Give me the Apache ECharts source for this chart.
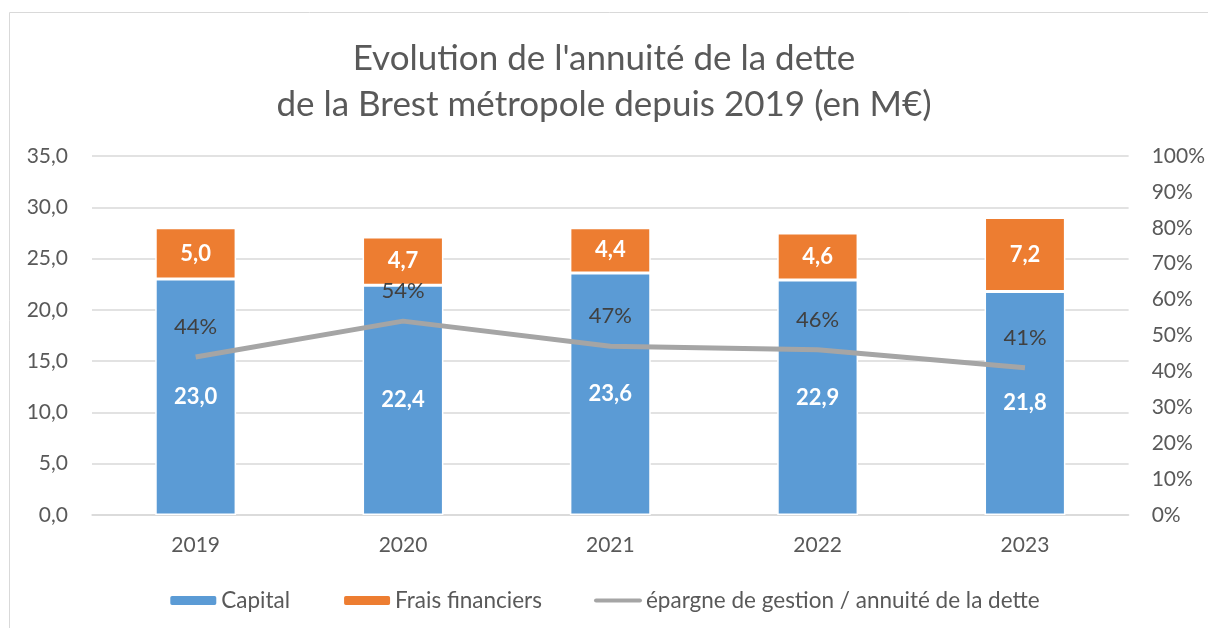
<!DOCTYPE html>
<html><head><meta charset="utf-8">
<script src="https://cdn.jsdelivr.net/npm/echarts@6/dist/echarts.min.js"></script>
<style>html,body{margin:0;padding:0;background:#fff}#c{width:1208px;height:628px}</style>
</head><body><div id="c"></div>
<script>
const categories = ['2019','2020','2021','2022','2023'];
const capital = [23.0, 22.4, 23.6, 22.9, 21.8];
const frais = [5.0, 4.7, 4.4, 4.6, 7.2];
const ratio = [0.44, 0.54, 0.47, 0.46, 0.41];
const seriesNames = ['Capital', 'Frais financiers', 'épargne de gestion / annuité de la dette'];
const titleLines = ["Evolution de l'annuité de la dette", "de la Brest métropole depuis 2019 (en M€)"];

const FONT = 'Lato, "Open Sans", sans-serif';
const fmt1 = v => v.toFixed(1).replace('.', ',');
const chart = echarts.init(document.getElementById('c'));
chart.setOption({
  animation: false,
  textStyle: { fontFamily: FONT },
  graphic: [{ type: 'rect', shape: { x: 9.5, y: 12.5, width: 1210, height: 640 }, style: { fill: 'none', stroke: '#d9d9d9', lineWidth: 1 } }],
  title: {
    text: titleLines.join('\n'), left: 'center', top: 31,
    textStyle: { fontFamily: FONT, fontSize: 35, fontWeight: 'normal', color: '#595959', lineHeight: 46 }
  },
  legend: {
    bottom: 11, left: 'center', itemGap: 52, itemWidth: 48, itemHeight: 11,
    textStyle: { fontFamily: FONT, fontSize: 22.5, color: '#595959', padding: [0, 0, 0, -1] },
    data: [
      { name: seriesNames[0] },
      { name: seriesNames[1] },
      { name: seriesNames[2], icon: 'path://M2,0 h52 a2.5,2.5 0 0 1 0,5 h-52 a2.5,2.5 0 0 1 0,-5 Z' }
    ]
  },
  grid: { left: 92, right: 77, top: 156, bottom: 113, containLabel: false },
  xAxis: {
    type: 'category', data: categories,
    axisLine: { show: true, lineStyle: { color: '#d9d9d9', width: 1.5 } },
    axisTick: { show: false },
    axisLabel: { fontFamily: FONT, fontSize: 21, color: '#595959', margin: 20 }
  },
  yAxis: [
    { type: 'value', min: 0, max: 35, interval: 5,
      axisLine: { show: false }, axisTick: { show: false },
      splitLine: { lineStyle: { color: '#d9d9d9', width: 1.5 } },
      axisLabel: { fontFamily: FONT, fontSize: 21, color: '#595959', margin: 24, formatter: fmt1 } },
    { type: 'value', min: 0, max: 1, interval: 0.1,
      axisLine: { show: false }, axisTick: { show: false }, splitLine: { show: false },
      axisLabel: { fontFamily: FONT, fontSize: 21, color: '#595959', margin: 23, align: 'left',
        formatter: v => Math.round(v * 100) + '%' } }
  ],
  series: [
    { name: seriesNames[0], type: 'bar', stack: 'a', data: capital, barWidth: '39%',
      itemStyle: { color: '#5b9bd5', borderColor: '#fff', borderWidth: 1.5 },
      label: { show: true, position: 'inside', color: '#fff', fontWeight: 'bold', fontSize: 22, fontFamily: FONT, formatter: p => fmt1(p.value) } },
    { name: seriesNames[1], type: 'bar', stack: 'a', data: frais, barWidth: '39%',
      itemStyle: { color: '#ed7d31', borderColor: '#fff', borderWidth: 1.5 },
      label: { show: true, position: 'inside', color: '#fff', fontWeight: 'bold', fontSize: 22, fontFamily: FONT, formatter: p => fmt1(p.value) } },
    { name: seriesNames[2], type: 'line', yAxisIndex: 1, data: ratio, symbol: 'circle', symbolSize: 0.1, showSymbol: true,
      lineStyle: { color: '#a5a5a5', width: 5 }, itemStyle: { color: '#a5a5a5' }, z: 5,
      labelLayout: { hideOverlap: false },
      label: { show: true, position: 'top', distance: 19, color: '#404040', fontSize: 22, fontFamily: FONT,
        formatter: p => Math.round(p.value * 100) + '%' } }
  ]
});
</script></body></html>
